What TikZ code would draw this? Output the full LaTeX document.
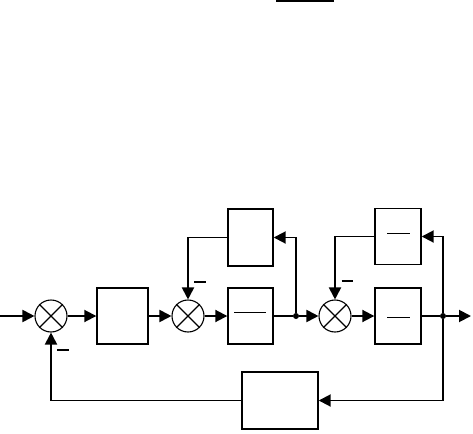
\documentclass[tikz,border=0pt]{standalone}
\usetikzlibrary{arrows.meta}
\begin{document}
\begin{tikzpicture}[x=1pt,y=-1pt,
  blk/.style={draw,line width=1.4pt,minimum width=#1,minimum height=56pt,inner sep=0pt},
  sumnode/.style={draw,circle,line width=1.1pt,minimum size=32pt,inner sep=0pt},
  ln/.style={line width=1.9pt},
  arr/.style={line width=1.9pt,-{Triangle[length=12pt,width=12pt]}},
  dot/.style={circle,fill,inner sep=0pt,minimum size=6pt},
  fbar/.style={line width=0.9pt},
  minus/.style={inner sep=0pt}]
\useasboundingbox (0,0) rectangle (473,433);
% top line
\draw[line width=1.8pt] (276,0.9) -- (334,0.9);
% nodes
\coordinate (in) at (0,316);
\node[sumnode] (s1) at (51,316) {};
\node[blk=51pt] (b1) at (122.5,316) {};
\node[sumnode] (s2) at (188,316) {};
\node[blk=45pt,minimum height=57pt] (b2) at (250.5,237.5) {};
\node[blk=45pt] (b3) at (250.5,316) {};
\node[dot] (j1) at (296,316) {};
\node[sumnode] (s3) at (335,316) {};
\node[blk=46pt] (b4) at (398,236.5) {};
\node[blk=46pt] (b5) at (398,316) {};
\node[dot] (j2) at (443,316) {};
\coordinate (out) at (471,316);
\node[blk=76pt,minimum height=57pt] (b6) at (280,400.5) {};
% crosses in summing junctions
\foreach \s in {s1,s2,s3}{
  \draw[line width=1.1pt] (\s.45) -- (\s.225);
  \draw[line width=1.1pt] (\s.135) -- (\s.315);
}
% fraction bars
\draw[fbar] (234,312) -- (266,312);
\draw[fbar] (387,233) -- (410,233);
\draw[fbar] (387,317) -- (410,317);
% connectors
\draw[arr] (in) -- (s1);
\draw[arr] (s1) -- (b1);
\draw[arr] (b1) -- (s2);
\draw[arr] (s2) -- (b3);
\draw[ln] (b3) -- (j1);
\draw[arr] (j1) -- (s3);
\draw[arr] (j1) |- (b2);
\draw[arr] (b2) -| (s2);
\draw[arr] (s3) -- (b5);
\draw[ln] (b5) -- (j2);
\draw[arr] (j2) -- (out);
\draw[arr] (j2) |- (b4);
\draw[arr] (b4) -| (s3);
\draw[arr] (j2) |- (b6);
\draw[arr] (b6) -| (s1);
% minus signs
\node[minus] (m1) at (63,350) {\rule{12pt}{2.2pt}};
\node[minus] (m2) at (200,282) {\rule{12pt}{2.2pt}};
\node[minus] (m3) at (347,281) {\rule{11pt}{2.2pt}};
\end{tikzpicture}
\end{document}
